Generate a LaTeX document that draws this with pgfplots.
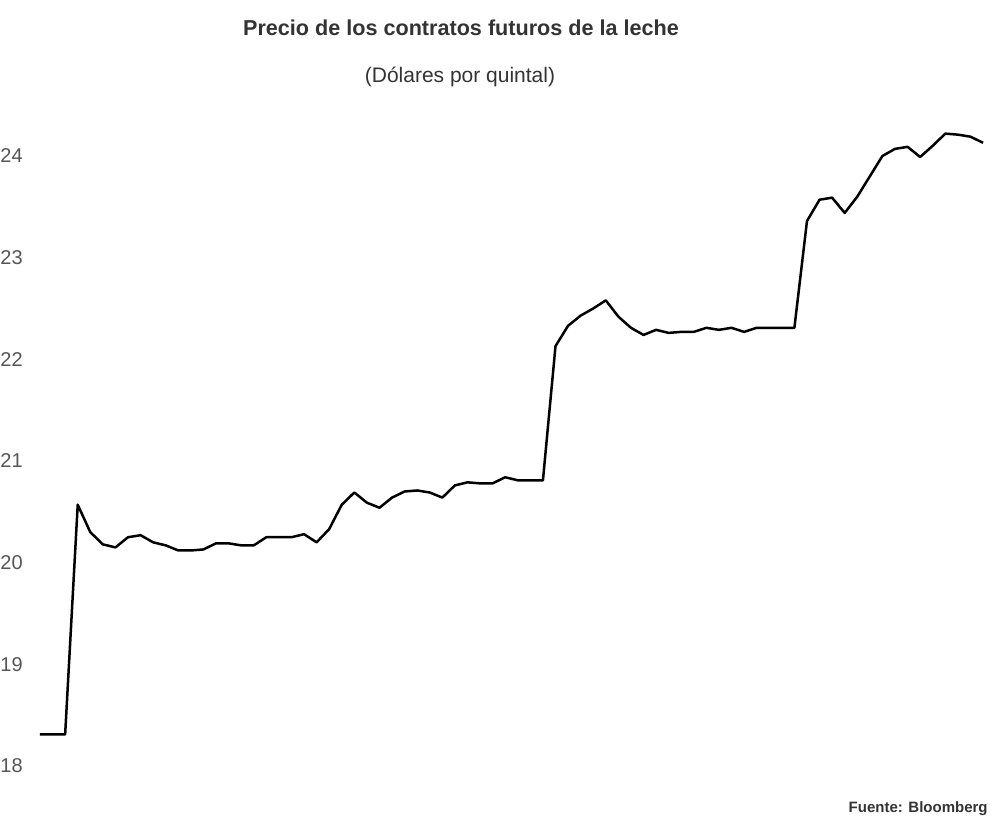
\documentclass[border=0pt]{standalone}
\usepackage{pgfplots}
\pgfplotsset{compat=1.18}
\usepackage{fontspec}
\setmainfont{Liberation Sans}

\definecolor{titlegray}{HTML}{333333}
\definecolor{tickgray}{HTML}{555555}

\begin{document}
\begin{tikzpicture}
  % fixed canvas: 1000x828 px at 0.5pt per px
  \path[use as bounding box] (0,0) rectangle (500pt,414pt);

  \begin{axis}[
      at={(20pt,31pt)},
      anchor=south west,
      scale only axis,
      width=471.5pt,
      height=305pt,
      xmin=0, xmax=75,
      ymin=18, ymax=24,
      clip=false,
      axis line style={draw=none},
      tick style={draw=none},
      xtick=\empty,
      ytick={18,19,20,21,22,23,24},
      major tick length=0pt,
      yticklabel style={anchor=west, xshift=-20pt, inner sep=0pt,
        font=\fontsize{10}{12}\selectfont, text=tickgray},
      /pgf/number format/assume math mode=true,
    ]
    \addplot[black, line width=1.25pt, line join=round] coordinates {
      (0,18.31) (1,18.31) (2,18.31) (3,20.57) (4,20.30) (5,20.18)
      (6,20.15) (7,20.25) (8,20.27) (9,20.20) (10,20.17) (11,20.12)
      (12,20.12) (13,20.13) (14,20.19) (15,20.19) (16,20.17) (17,20.17)
      (18,20.25) (19,20.25) (20,20.25) (21,20.28) (22,20.20) (23,20.33)
      (24,20.57) (25,20.69) (26,20.59) (27,20.54) (28,20.64) (29,20.70)
      (30,20.71) (31,20.69) (32,20.64) (33,20.76) (34,20.79) (35,20.78)
      (36,20.78) (37,20.84) (38,20.81) (39,20.81) (40,20.81) (41,22.13)
      (42,22.33) (43,22.43) (44,22.50) (45,22.58) (46,22.42) (47,22.31)
      (48,22.24) (49,22.29) (50,22.26) (51,22.27) (52,22.27) (53,22.31)
      (54,22.29) (55,22.31) (56,22.27) (57,22.31) (58,22.31) (59,22.31)
      (60,22.31) (61,23.36) (62,23.57) (63,23.59) (64,23.44) (65,23.60)
      (66,23.80) (67,24.00) (68,24.07) (69,24.09) (70,23.99) (71,24.10)
      (72,24.22) (73,24.21) (74,24.19) (75,24.13)
    };
  \end{axis}

  \node[text=titlegray, font=\bfseries\fontsize{10.8}{13}\selectfont]
    at (230.5pt,400pt) {Precio de los contratos futuros de la leche};
  \node[text=titlegray, font=\fontsize{10.5}{12}\selectfont]
    at (230pt,375.5pt) {(Dólares por quintal)};
  \node[text=titlegray, anchor=east, inner sep=0pt,
        font=\bfseries\fontsize{7.5}{9}\selectfont]
    at (494pt,9.5pt) {Fuente: Bloomberg};
\end{tikzpicture}
\end{document}
